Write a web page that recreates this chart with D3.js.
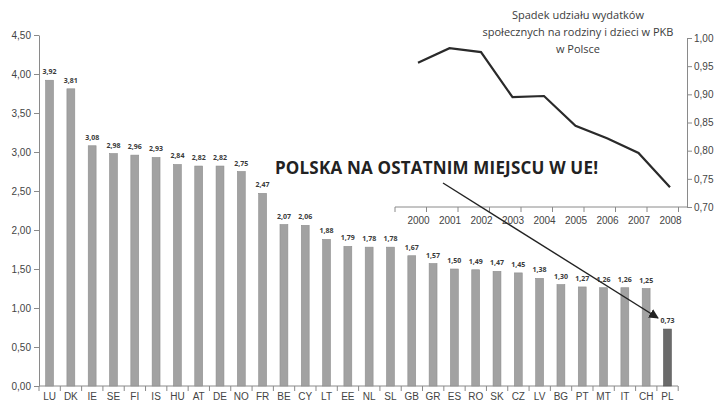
<!DOCTYPE html>
<html>
<head>
<meta charset="utf-8">
<script src="https://cdn.jsdelivr.net/npm/d3@7"></script>
<style>
  body { margin: 0; background: #fff; }
  svg { display: block; font-family: "Open Sans", "DejaVu Sans", sans-serif; }
  .axis path, .axis line { stroke: #8a8a8a; }
  .axis text { fill: #444; }
</style>
</head>
<body>
<svg id="chart" width="720" height="407"></svg>
<script>
// main chart data
const countries = ["LU","DK","IE","SE","FI","IS","HU","AT","DE","NO","FR","BE","CY","LT","EE",
                   "NL","SL","GB","GR","ES","RO","SK","CZ","LV","BG","PT","MT","IT","CH","PL"];
const shares = [3.92,3.81,3.08,2.98,2.96,2.93,2.84,2.82,2.82,2.75,2.47,2.07,2.06,1.88,1.79,
                1.78,1.78,1.67,1.57,1.50,1.49,1.47,1.45,1.38,1.30,1.27,1.26,1.26,1.25,0.73];
const mainTicks = [0,0.5,1,1.5,2,2.5,3,3.5,4,4.5];

// inset data
const years = ["2000","2001","2002","2003","2004","2005","2006","2007","2008"];
const plShare = [0.956,0.982,0.975,0.895,0.897,0.844,0.822,0.796,0.735];
const insetTicks = [0.70,0.75,0.80,0.85,0.90,0.95,1.00];
const insetTitle = ["Spadek udziału wydatków","społecznych na rodziny i dzieci w PKB","w Polsce"];
const headline = "POLSKA NA OSTATNIM MIEJSCU W UE!";

const fmt = d3.format(".2f");
const pl = v => fmt(v).replace(".", ",");

const svg = d3.select("#chart");

// ---- main bar chart
const x = d3.scaleBand().domain(countries).range([39, 678]).paddingInner(0.63).paddingOuter(0.31);
const y = d3.scaleLinear().domain([0, 4.5]).range([386, 35]);

const yAxis = svg.append("g").attr("class", "axis")
  .attr("transform", "translate(39,0)")
  .call(d3.axisLeft(y).tickValues(mainTicks).tickFormat(pl).tickSize(5).tickSizeOuter(0));
yAxis.selectAll("text").attr("font-size", 10).attr("x", -8);

const xAxis = svg.append("g").attr("class", "axis")
  .attr("transform", "translate(0,386)")
  .call(d3.axisBottom(x).tickSize(0).tickSizeOuter(0));
xAxis.select(".domain").attr("d", "M39,0H678");
xAxis.selectAll("text").attr("font-size", 10).attr("dy", "1.1em");
// ticks between categories
const step = x.step();
xAxis.selectAll("line.sep").data(d3.range(countries.length + 1)).join("line")
  .attr("class", "sep")
  .attr("x1", i => 39 + i * step).attr("x2", i => 39 + i * step)
  .attr("y1", 0).attr("y2", 5);

svg.append("g").selectAll("rect").data(countries).join("rect")
  .attr("x", d => x(d))
  .attr("width", x.bandwidth())
  .attr("y", (d, i) => y(shares[i]))
  .attr("height", (d, i) => 386 - y(shares[i]))
  .attr("fill", d => d === "PL" ? "#6a6a6a" : "#a2a2a2")
  .attr("stroke", d => d === "PL" ? "#555" : "#8e8e8e")
  .attr("stroke-width", 0.6);

svg.append("g").selectAll("text").data(countries).join("text")
  .attr("x", d => x(d) + x.bandwidth() / 2)
  .attr("y", (d, i) => y(shares[i]) - 6)
  .attr("text-anchor", "middle")
  .attr("font-size", 7)
  .attr("font-weight", 700)
  .attr("fill", "#3a3a3a")
  .text((d, i) => pl(shares[i]));

// ---- inset line chart
const ix = d3.scalePoint().domain(years).range([418, 670]);
const iy = d3.scaleLinear().domain([0.70, 1.00]).range([207, 38]);

const iyAxis = svg.append("g").attr("class", "axis")
  .attr("transform", "translate(687,0)")
  .call(d3.axisRight(iy).tickValues(insetTicks).tickFormat(pl).tickSize(5).tickSizeOuter(0));
iyAxis.selectAll("text").attr("font-size", 10).attr("x", 7);

const ixAxis = svg.append("g").attr("class", "axis")
  .attr("transform", "translate(0,207)")
  .call(d3.axisBottom(ix).tickSize(0).tickSizeOuter(0));
ixAxis.select(".domain").attr("d", "M395,0H687");
ixAxis.selectAll("text").attr("font-size", 10).attr("dy", "1.4em");
const istep = ix.step();
ixAxis.selectAll("line.sep").data(d3.range(years.length + 1)).join("line")
  .attr("class", "sep")
  .attr("x1", i => ix(years[0]) - istep * 0.73 + i * istep)
  .attr("x2", i => ix(years[0]) - istep * 0.73 + i * istep)
  .attr("y1", 0).attr("y2", 5);

svg.append("path")
  .datum(years)
  .attr("fill", "none")
  .attr("stroke", "#2a2a2a")
  .attr("stroke-width", 2.2)
  .attr("d", d3.line().x(d => ix(d)).y((d, i) => iy(plShare[i])));

svg.append("text")
  .attr("x", 578).attr("y", 19)
  .attr("text-anchor", "middle")
  .attr("font-size", 11)
  .attr("fill", "#3c3c3c")
  .selectAll("tspan").data(insetTitle).join("tspan")
  .attr("x", 578).attr("dy", (d, i) => i ? 17 : 0)
  .text(d => d);

// headline and arrow
svg.append("text")
  .attr("x", 275).attr("y", 174)
  .attr("font-size", 17)
  .attr("font-weight", 700)
  .attr("fill", "#222")
  .attr("textLength", 323)
  .text(headline);

svg.append("defs").append("marker")
  .attr("id", "arr").attr("viewBox", "0 0 10 10")
  .attr("refX", 9).attr("refY", 5)
  .attr("markerWidth", 7).attr("markerHeight", 7)
  .attr("orient", "auto")
  .append("path").attr("d", "M0,0L10,5L0,10z").attr("fill", "#222");

svg.append("line")
  .attr("x1", 443).attr("y1", 183)
  .attr("x2", 658).attr("y2", 318)
  .attr("stroke", "#222").attr("stroke-width", 1.4)
  .attr("marker-end", "url(#arr)");
</script>
</body>
</html>
